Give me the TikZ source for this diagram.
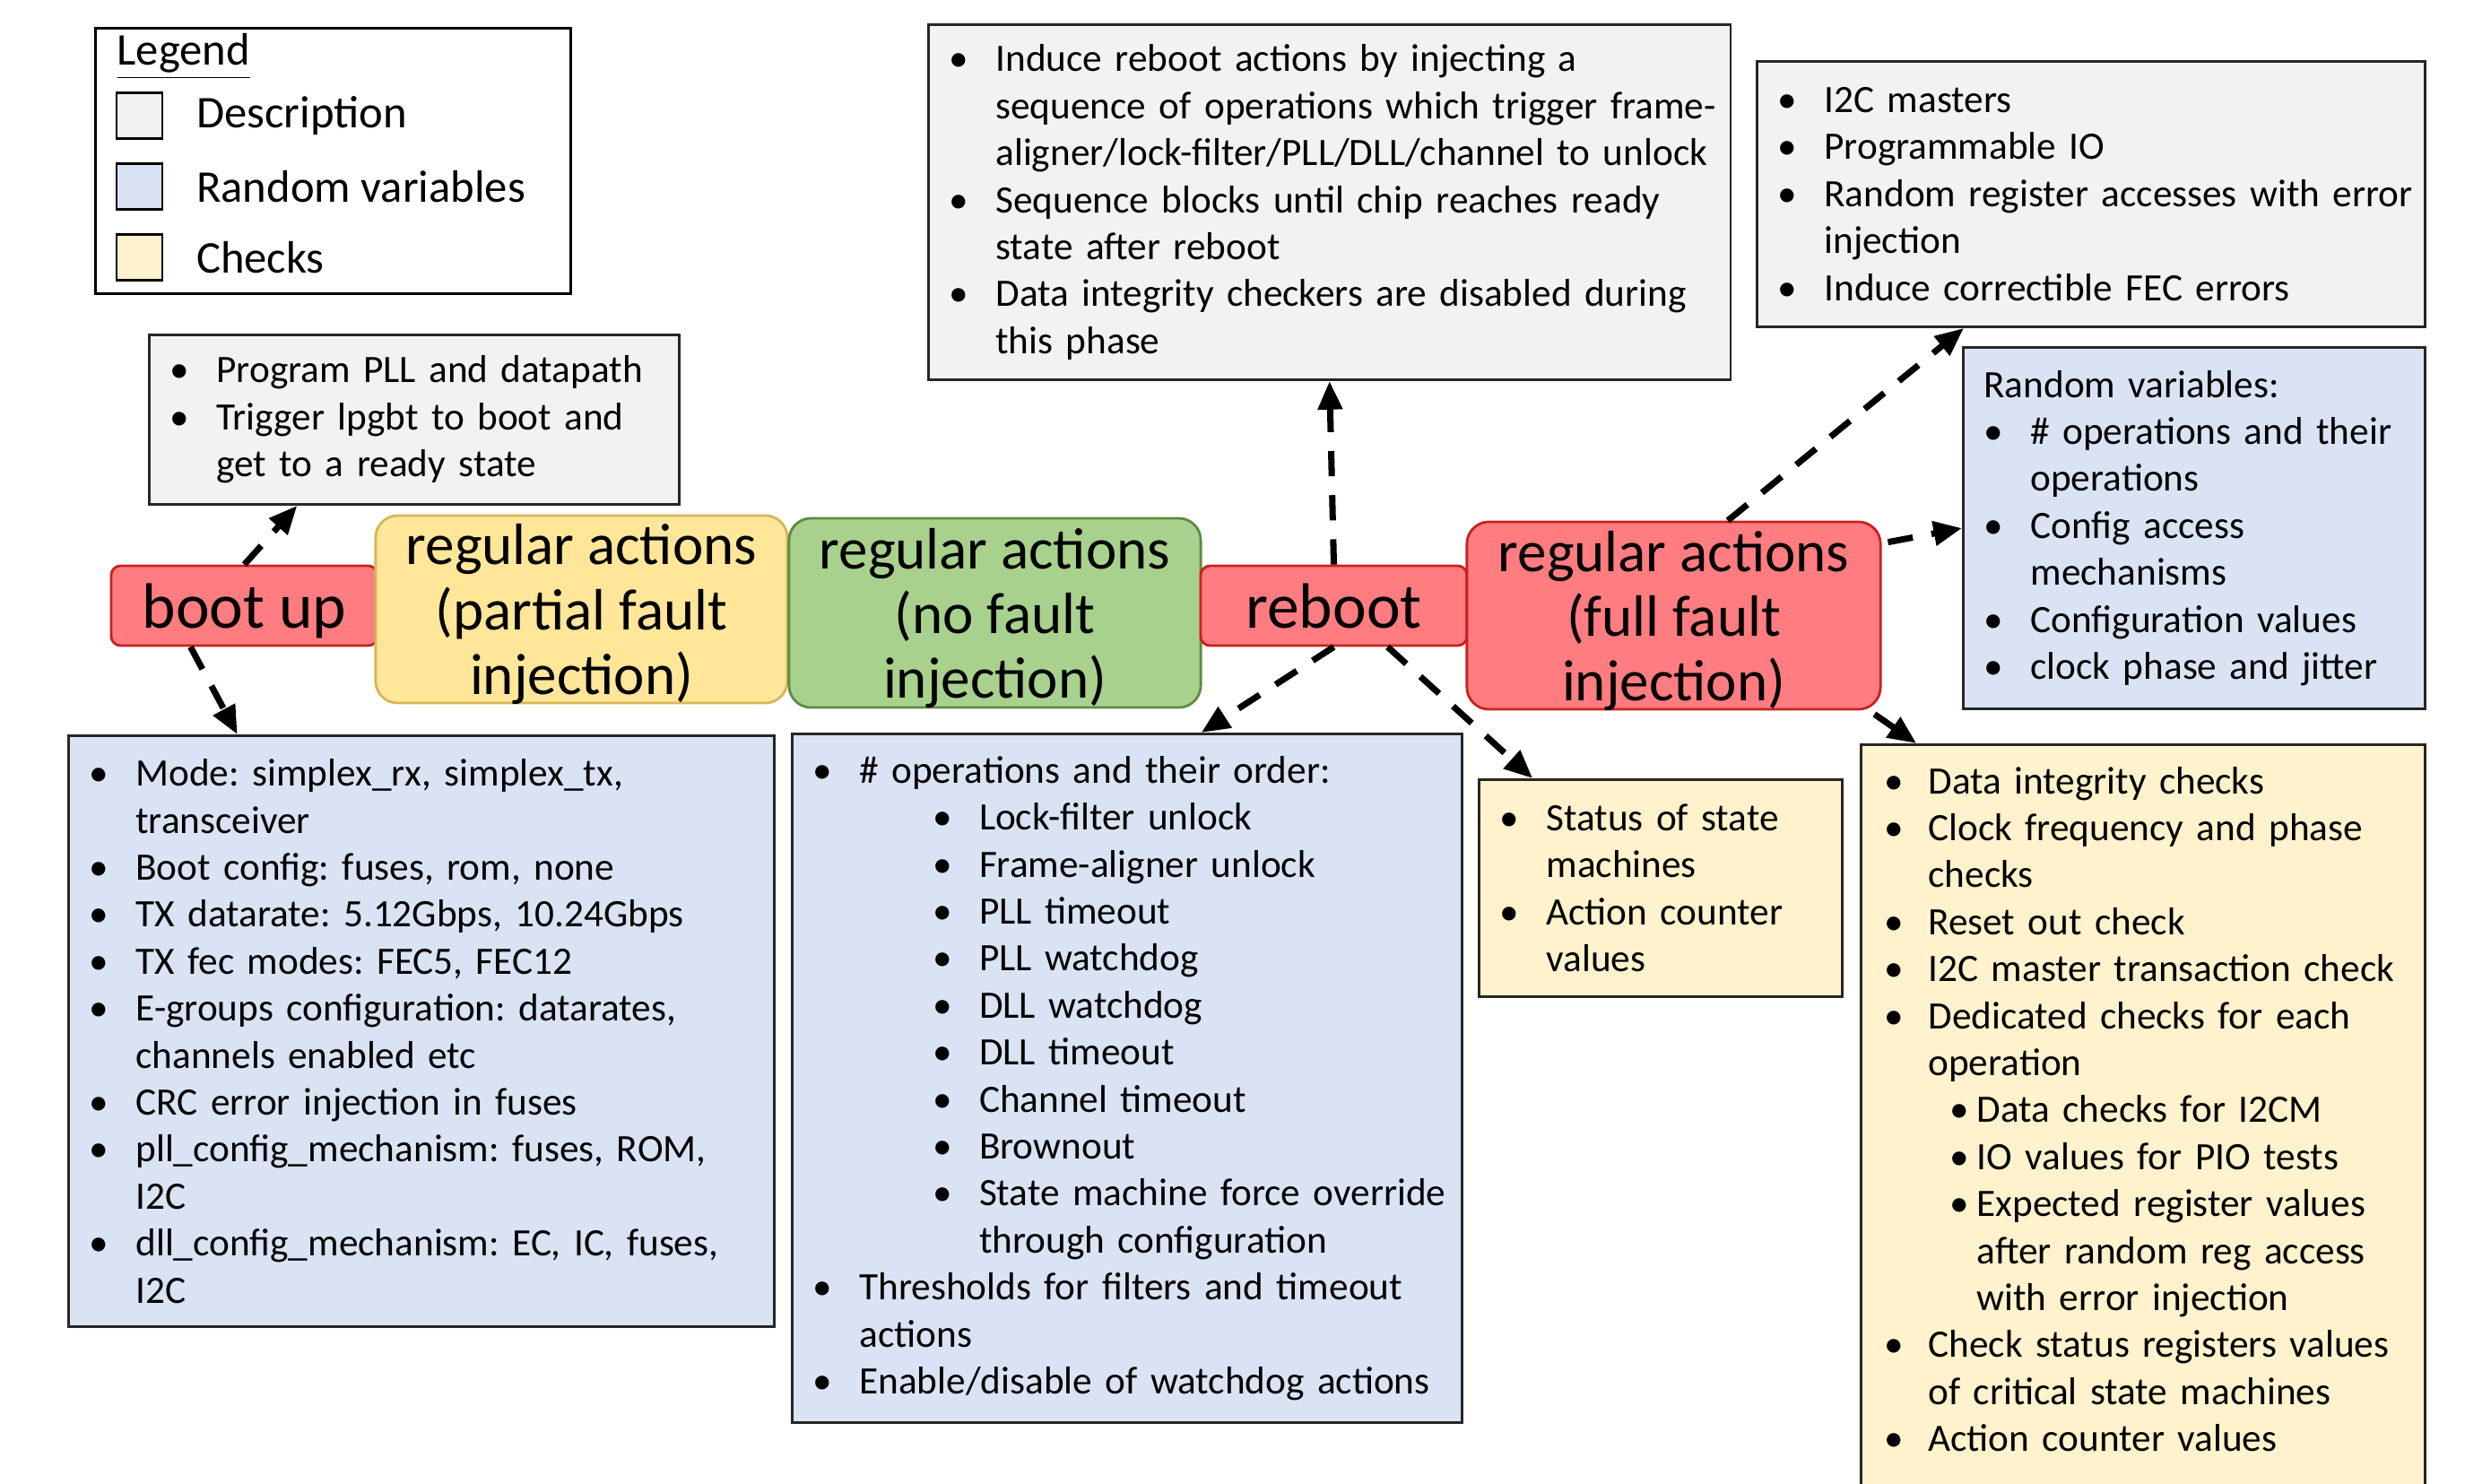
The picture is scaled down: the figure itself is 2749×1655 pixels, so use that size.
\documentclass[tikz,border=0pt]{standalone}
\usepackage{fontspec}
\setmainfont{Carlito}
\usetikzlibrary{arrows.meta,calc,positioning}

\definecolor{descgray}{HTML}{F2F2F2}
\definecolor{rvblue}{HTML}{DAE3F3}
\definecolor{chkyellow}{HTML}{FFF2CC}
\definecolor{phred}{HTML}{FF7C80}
\definecolor{phredline}{HTML}{C9211E}
\definecolor{phyellow}{HTML}{FFE699}
\definecolor{phyellowline}{HTML}{D6B656}
\definecolor{phgreen}{HTML}{A9D18E}
\definecolor{phgreenline}{HTML}{5E8A45}

\newlength\bulw
\setlength\bulw{0.52cm}
\newcommand\bitem[1]{\makebox[\bulw][l]{\textbullet}\mbox{#1}}
\newcommand\bcont[1]{\hspace*{\bulw}\mbox{#1}}
\newcommand\sitem[1]{\hspace*{1.335cm}\makebox[\bulw][l]{\textbullet}\mbox{#1}}
\newcommand\scont[1]{\hspace*{1.855cm}\mbox{#1}}
\newcommand\yitem[1]{\makebox[\bulw][l]{\hspace*{0.035cm}\textbullet}\mbox{#1}}
\newcommand\ysub[1]{\hspace*{0.76cm}\makebox[0.30cm][l]{\textbullet}\mbox{#1}}
\newcommand\ycont[1]{\hspace*{1.06cm}\mbox{#1}}
\newcommand\txtsz{\fontsize{12.3}{14.9}\selectfont\frenchspacing}

\begin{document}
\begin{tikzpicture}[x=0.01cm,y=-0.01cm,
  infobox/.style={draw=black!85,line width=0.8pt,anchor=north west,align=left,
    inner xsep=0.23cm,inner ysep=4pt,font=\txtsz},
  descbox/.style={infobox,fill=descgray},
  rvbox/.style={infobox,fill=rvblue},
  chkbox/.style={infobox,fill=chkyellow},
  phase/.style={line width=0.8pt,align=center,inner sep=0pt,text depth=0pt,font=\fontsize{18.5}{20.5}\selectfont,rounded corners=7pt},
  shortphase/.style={phase,fill=phred,draw=phredline,rounded corners=3pt,font=\fontsize{20.3}{22}\selectfont},
  lgsq/.style={draw=black,line width=0.8pt,minimum size=0.51cm,inner sep=0pt},
  lgtxt/.style={inner sep=0pt,anchor=west,font=\fontsize{14.4}{17}\selectfont},
  dasharrow/.style={line width=2pt,dash pattern=on 8pt off 6pt,-{Triangle[length=9pt,width=7.5pt]}}]

  \useasboundingbox (0,0) rectangle (2749,1655);

  % legend
  \node[draw=black,line width=0.8pt,anchor=north west,minimum width=5.30cm,minimum height=2.96cm] (legend) at (105,30) {};
  \node[lgtxt,anchor=base west] (lgtitle) at (130,73) {\underline{Legend}};
  \node[lgsq,fill=descgray] (sqdesc) at (155.5,129) {};
  \node[lgsq,fill=rvblue] (sqrv) at (155.5,208) {};
  \node[lgsq,fill=chkyellow] (sqchk) at (155.5,287) {};
  \node[lgtxt,right=0.36cm of sqdesc] (lgdesc) {Description};
  \node[lgtxt,right=0.36cm of sqrv] (lgrv) {Random variables};
  \node[lgtxt,right=0.36cm of sqchk] (lgchk) {Checks};

  % phases
  \node[shortphase,minimum width=2.97cm,minimum height=0.89cm] (bootup) at (272.5,675.5) {boot up};
  \node[phase,fill=phyellow,draw=phyellowline,minimum width=4.59cm,minimum height=2.09cm] (partial) at (648.5,679.5) {regular actions\\(partial fault\\injection)};
  \node[phase,fill=phgreen,draw=phgreenline,minimum width=4.59cm,minimum height=2.11cm] (nofault) at (1109.5,683.5) {regular actions\\(no fault\\injection)};
  \node[shortphase,minimum width=2.97cm,minimum height=0.89cm] (reboot) at (1487.5,675.5) {reboot};
  \node[phase,fill=phred,draw=phredline,minimum width=4.61cm,minimum height=2.09cm] (full) at (1866.5,686.5) {regular actions\\(full fault\\injection)};

  % descriptions
  \node[descbox,text width=5.45cm,minimum height=1.89cm] (pll) at (165,372) {%
    \bitem{Program PLL and datapath}\\
    \bitem{Trigger lpgbt to boot and}\\
    \bcont{get to a ready state}};
  \node[descbox,text width=8.48cm,minimum height=3.96cm] (rebootdesc) at (1034,26) {%
    \bitem{Induce reboot actions by injecting a}\\
    \bcont{sequence of operations which trigger frame-}\\
    \bcont{aligner/lock-filter/PLL/DLL/channel to unlock}\\
    \bitem{Sequence blocks until chip reaches ready}\\
    \bcont{state after reboot}\\
    \bitem{Data integrity checkers are disabled during}\\
    \bcont{this phase}};
  \node[descbox,text width=6.99cm,minimum height=2.96cm] (injdesc) at (1958,67) {%
    \bitem{I2C masters}\\
    \bitem{Programmable IO}\\
    \bitem{Random register accesses with error}\\
    \bcont{injection}\\
    \bitem{Induce correctible FEC errors}};

  % random variables
  \node[rvbox,text width=4.69cm,minimum height=4.03cm] (rvfull) at (2188,386) {%
    Random variables:\\
    \bitem{\# operations and their}\\
    \bcont{operations}\\
    \bitem{Config access}\\
    \bcont{mechanisms}\\
    \bitem{Configuration values}\\
    \bitem{clock phase and jitter}};
  \node[rvbox,text width=7.41cm,minimum height=6.59cm] (rvboot) at (75,819) {%
    \bitem{Mode: simplex\_rx, simplex\_tx,}\\
    \bcont{transceiver}\\
    \bitem{Boot config: fuses, rom, none}\\
    \bitem{TX datarate: 5.12Gbps, 10.24Gbps}\\
    \bitem{TX fec modes: FEC5, FEC12}\\
    \bitem{E-groups configuration: datarates,}\\
    \bcont{channels enabled etc}\\
    \bitem{CRC error injection in fuses}\\
    \bitem{pll\_config\_mechanism: fuses, ROM,}\\
    \bcont{I2C}\\
    \bitem{dll\_config\_mechanism: EC, IC, fuses,}\\
    \bcont{I2C}};
  \node[rvbox,text width=7.01cm,minimum height=7.68cm] (rvreboot) at (882,817) {%
    \bitem{\# operations and their order:}\\
    \sitem{Lock-filter unlock}\\
    \sitem{Frame-aligner unlock}\\
    \sitem{PLL timeout}\\
    \sitem{PLL watchdog}\\
    \sitem{DLL watchdog}\\
    \sitem{DLL timeout}\\
    \sitem{Channel timeout}\\
    \sitem{Brownout}\\
    \sitem{State machine force override}\\
    \scont{through configuration}\\
    \bitem{Thresholds for filters and timeout}\\
    \bcont{actions}\\
    \bitem{Enable/disable of watchdog actions}};

  % checks
  \node[chkbox,text width=3.59cm,minimum height=2.42cm] (chkreboot) at (1648,868) {%
    \bitem{Status of state}\\
    \bcont{machines}\\
    \bitem{Action counter}\\
    \bcont{values}};
  \node[chkbox,text width=5.83cm,inner ysep=7pt] (chkfull) at (2074,829) {%
    \yitem{Data integrity checks}\\
    \yitem{Clock frequency and phase}\\
    \bcont{checks}\\
    \yitem{Reset out check}\\
    \yitem{I2C master transaction check}\\
    \yitem{Dedicated checks for each}\\
    \bcont{operation}\\
    \ysub{Data checks for I2CM}\\
    \ysub{IO values for PIO tests}\\
    \ysub{Expected register values}\\
    \ycont{after random reg access}\\
    \ycont{with error injection}\\
    \yitem{Check status registers values}\\
    \bcont{of critical state machines}\\
    \yitem{Action counter values\rule[-1.5cm]{0pt}{0pt}}};

  % connectors
  \draw[dasharrow] (bootup.north) -- ($(pll.south west)!0.28!(pll.south east)$);
  \draw[dasharrow] ($(bootup.south west)!0.30!(bootup.south east)$) -- ($(rvboot.north west)!0.24!(rvboot.north east)$);
  \draw[dasharrow] (reboot.north) -- (rebootdesc.south);
  \draw[dasharrow] (reboot.south) -- ($(rvreboot.north west)!0.61!(rvreboot.north east)$);
  \draw[dasharrow] ($(reboot.south west)!0.70!(reboot.south east)$) -- ($(chkreboot.north west)!0.15!(chkreboot.north east)$);
  \draw[dasharrow] ($(full.north west)!0.63!(full.north east)$) -- ($(injdesc.south west)!0.31!(injdesc.south east)$);
  \draw[dasharrow,shorten <=2pt] ($(full.north east)!0.12!(full.south east)$) -- (rvfull.west);
  \draw[dasharrow,shorten <=2pt] ($(full.south west)!0.97!(full.south east)$) -- ($(chkfull.north west)!0.10!(chkfull.north east)$);
\end{tikzpicture}
\end{document}
